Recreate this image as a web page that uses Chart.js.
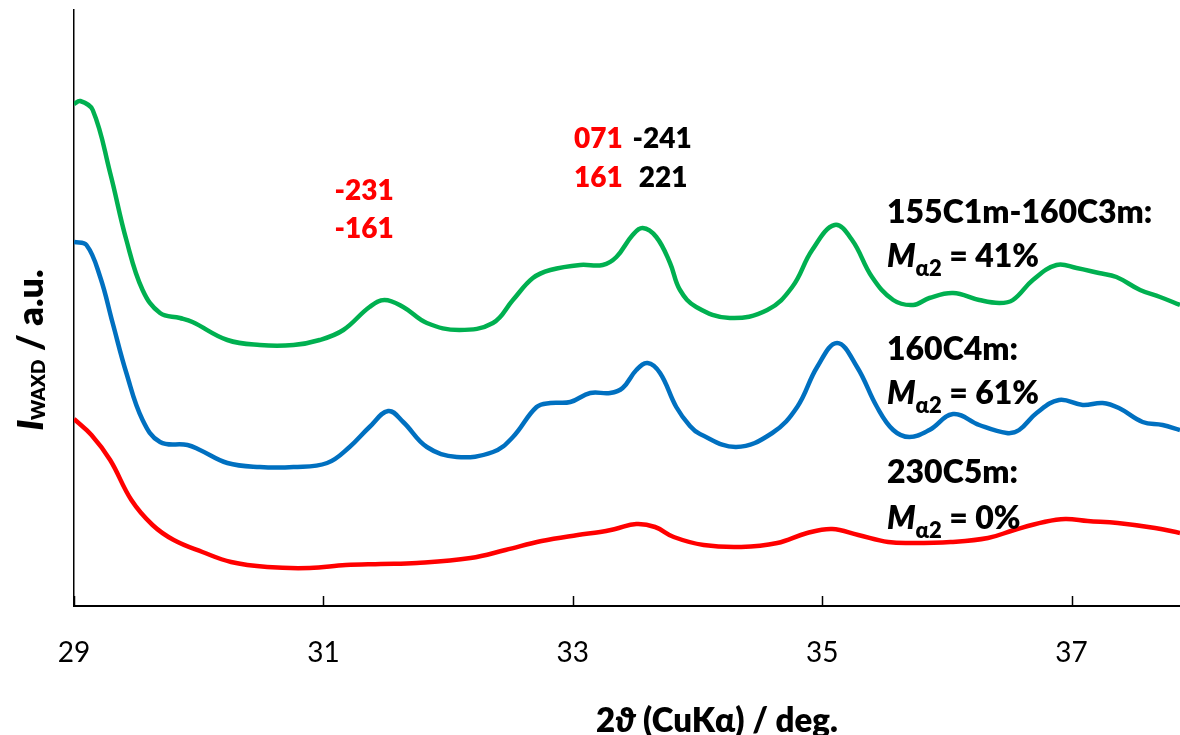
<!DOCTYPE html>
<html>
<head>
<meta charset="utf-8">
<title>WAXD profiles</title>
<script src="https://cdn.jsdelivr.net/npm/chart.js@4.4.1/dist/chart.umd.min.js"></script>
<style>
  html, body { margin: 0; padding: 0; background: #ffffff; overflow: hidden; }
  #wrap { width: 1180px; height: 735px; position: relative; }
  canvas { display: block; }
</style>
</head>
<body>
<div id="wrap"><canvas id="c" width="1180" height="735"></canvas></div>
<script>
// ---- data: 2θ (deg) and WAXD intensity (a.u., curves offset vertically) ----
const xTicks = [29, 31, 33, 35, 37];

const twoThetaA = [29.00, 29.05, 29.15, 29.29, 29.42, 29.55, 29.69, 29.85, 29.95, 30.23, 30.49, 30.76, 30.97, 31.16, 31.37, 31.49, 31.64, 31.83, 32.09, 32.36, 32.52, 32.68, 32.82, 33.06, 33.24, 33.35, 33.48, 33.56, 33.67, 33.78, 33.86, 33.99, 34.26, 34.56, 34.76, 34.92, 35.10, 35.24, 35.40, 35.57, 35.73, 35.86, 36.05, 36.26, 36.42, 36.53, 36.69, 36.88, 37.04, 37.22, 37.36, 37.55, 37.71, 37.87];
const intensityA = [502, 505, 496, 433, 366, 316, 293, 288, 284, 266, 261, 261, 266, 276, 299, 306, 299, 283, 276, 283, 306, 328, 336, 341, 341, 349, 371, 378, 369, 343, 316, 299, 288, 296, 319, 356, 381, 366, 329, 306, 301, 308, 313, 306, 303, 306, 326, 341, 338, 333, 329, 316, 309, 301];

const twoThetaB = [29.00, 29.10, 29.21, 29.31, 29.42, 29.55, 29.69, 29.91, 30.01, 30.23, 30.49, 30.76, 31.03, 31.21, 31.37, 31.52, 31.64, 31.83, 32.07, 32.36, 32.52, 32.71, 32.82, 32.98, 33.14, 33.30, 33.40, 33.51, 33.60, 33.70, 33.83, 33.94, 34.02, 34.31, 34.60, 34.80, 34.96, 35.12, 35.28, 35.44, 35.57, 35.70, 35.86, 36.05, 36.26, 36.48, 36.58, 36.72, 36.90, 37.09, 37.25, 37.38, 37.57, 37.73, 37.87];
const intensityB = [364, 361, 329, 283, 233, 186, 164, 161, 156, 143, 139, 139, 143, 159, 179, 195, 184, 159, 149, 154, 169, 199, 203, 204, 213, 213, 218, 236, 243, 233, 199, 180, 172, 159, 173, 199, 239, 263, 239, 199, 176, 169, 176, 192, 181, 173, 176, 193, 206, 201, 203, 198, 184, 181, 176];

const twoThetaC = [29.00, 29.14, 29.29, 29.46, 29.63, 29.80, 30.03, 30.26, 30.55, 30.89, 31.18, 31.46, 31.75, 32.18, 32.46, 32.75, 33.04, 33.22, 33.34, 33.51, 33.66, 33.81, 34.05, 34.35, 34.64, 34.88, 35.08, 35.29, 35.53, 35.73, 36.03, 36.33, 36.54, 36.78, 36.95, 37.13, 37.37, 37.67, 37.87];
const intensityC = [187, 171, 146, 106, 81, 66, 54, 44, 39, 38, 41, 42, 43, 48, 56, 65, 71, 74, 77, 82, 79, 69, 61, 59, 63, 73, 77, 71, 64, 63, 64, 68, 76, 84, 87, 85, 83, 78, 73];

const seriesNames = ['155C1m-160C3m', '160C4m', '230C5m'];
const alpha2Content = [41, 61, 0];

// ---- look ----
const FONT = "Lato, 'Noto Sans', 'DejaVu Sans', sans-serif";
const WEIGHT = '800';
const GREEN = '#00b050', BLUE = '#0070c0', RED = '#ff0000';

function pairs(xs, ys) { return xs.map((x, i) => ({ x: x, y: ys[i] })); }

// Miller-index labels, placed in data coordinates (deg, a.u.)
const hklLabels = [
  { runs: [{ t: '-231', color: RED }], x: 31.09, y: 406 },
  { runs: [{ t: '-161', color: RED }], x: 31.09, y: 368 },
  { runs: [{ t: '071', color: RED }], x: 33.01, y: 458 },
  { runs: [{ t: '-241' }], x: 33.48, y: 458 },
  { runs: [{ t: '161', color: RED }], x: 33.01, y: 419 },
  { runs: [{ t: '221' }], x: 33.53, y: 419 }
];
// sample names and α2 content, baselines in a.u.
const sampleLabelY = [[383, 339], [246, 202], [123, 77]];
const sampleLabelX = 35.52;

function runFont(r, size, subSize) {
  const fs = r.sub ? subSize : size;
  return (r.italic ? 'italic ' : '') + WEIGHT + ' ' + fs + 'px ' + FONT;
}
function measureRuns(ctx, runs, size, subSize) {
  let w = 0;
  for (const r of runs) { ctx.font = runFont(r, size, subSize); w += ctx.measureText(r.t).width; }
  return w;
}
function drawRuns(ctx, x, y, runs, size, subSize, subShift, color) {
  let cx = x;
  ctx.textBaseline = 'alphabetic';
  ctx.textAlign = 'left';
  for (const r of runs) {
    ctx.font = runFont(r, size, subSize);
    ctx.fillStyle = r.color || color;
    ctx.fillText(r.t, cx, y + (r.sub ? subShift : 0));
    cx += ctx.measureText(r.t).width;
  }
}

const decorPlugin = {
  id: 'decor',
  afterDraw(chart) {
    const ctx = chart.ctx;
    const xs = chart.scales.x, ys = chart.scales.y;
    const area = chart.chartArea;
    ctx.save();

    // inward tick marks on the 2θ axis
    ctx.strokeStyle = '#000';
    ctx.lineWidth = 1.5;
    for (const v of xTicks) {
      const px = Math.round(xs.getPixelForValue(v)) + 0.5;
      ctx.beginPath();
      ctx.moveTo(px, area.bottom);
      ctx.lineTo(px, area.bottom - 10);
      ctx.stroke();
    }

    // reflection indices
    for (const l of hklLabels) {
      drawRuns(ctx, xs.getPixelForValue(l.x), ys.getPixelForValue(l.y), l.runs, 28, 18, 0, '#000');
    }

    // sample names and α2 content
    seriesNames.forEach((name, i) => {
      const px = xs.getPixelForValue(sampleLabelX);
      drawRuns(ctx, px, ys.getPixelForValue(sampleLabelY[i][0]), [{ t: name + ':' }], 32, 20, 0, '#000');
      drawRuns(ctx, px, ys.getPixelForValue(sampleLabelY[i][1]),
        [{ t: 'M', italic: true }, { t: 'α2', sub: true }, { t: ' = ' + alpha2Content[i] + '%' }], 32, 22, 9, '#000');
    });

    // x-axis title
    const xTitle = [{ t: '2' }, { t: 'ϑ', italic: true }, { t: ' (CuKα) / deg.' }];
    const xw = measureRuns(ctx, xTitle, 33, 18);
    drawRuns(ctx, 717 - xw / 2, 732, xTitle, 33, 18, 0, '#000');

    // y-axis title, rotated
    const yTitle = [{ t: 'I', italic: true }, { t: 'WAXD', sub: true }, { t: ' / a.u.' }];
    const yw = measureRuns(ctx, yTitle, 36, 19);
    ctx.translate(43, 350 + yw / 2);
    ctx.rotate(-Math.PI / 2);
    drawRuns(ctx, 0, 0, yTitle, 36, 19, 2, '#000');

    ctx.restore();
  }
};

const lineStyle = { borderWidth: 4.5, pointRadius: 0, fill: false, tension: 0.4 };

new Chart(document.getElementById('c'), {
  type: 'line',
  data: {
    datasets: [
      Object.assign({ label: seriesNames[0], data: pairs(twoThetaA, intensityA), borderColor: GREEN }, lineStyle),
      Object.assign({ label: seriesNames[1], data: pairs(twoThetaB, intensityB), borderColor: BLUE }, lineStyle),
      Object.assign({ label: seriesNames[2], data: pairs(twoThetaC, intensityC), borderColor: RED }, lineStyle)
    ]
  },
  options: {
    responsive: false,
    animation: false,
    devicePixelRatio: 1,
    layout: { padding: { top: 10, right: 0, left: 0, bottom: 0 } },
    plugins: { legend: { display: false }, tooltip: { enabled: false } },
    scales: {
      x: {
        type: 'linear',
        min: 29,
        max: 37.87,
        afterBuildTicks(scale) { scale.ticks = xTicks.map(v => ({ value: v })); },
        afterFit(scale) { scale.height = 129; },
        grid: { display: false },
        border: { display: true, color: '#000', width: 2 },
        ticks: { font: { family: FONT, size: 28 }, color: '#000', padding: 22, maxRotation: 0 }
      },
      y: {
        type: 'linear',
        min: 0,
        max: 596,
        afterFit(scale) { scale.width = 74; },
        grid: { display: false },
        border: { display: true, color: '#000', width: 1.5 },
        ticks: { display: false }
      }
    }
  },
  plugins: [decorPlugin]
});
</script>
</body>
</html>
